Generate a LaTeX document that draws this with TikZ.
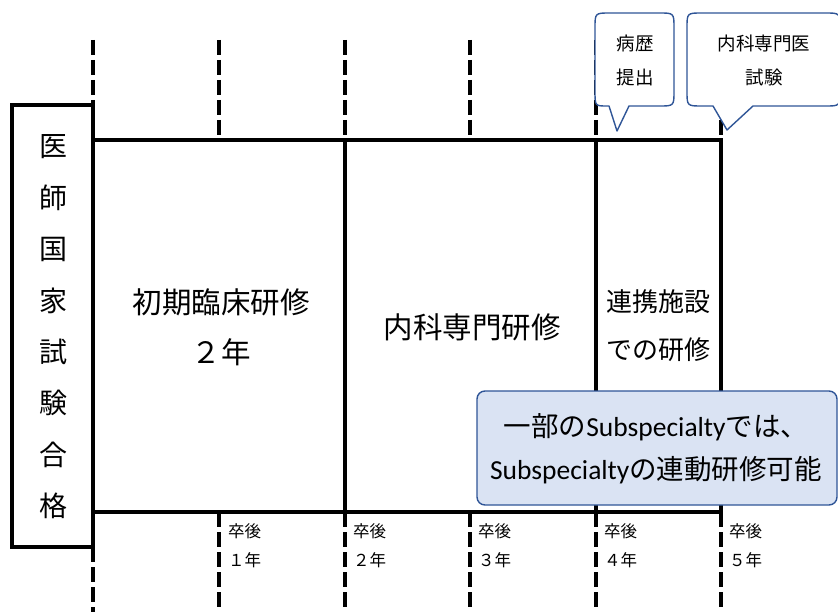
\documentclass[tikz,border=0pt]{standalone}
\usepackage{fontspec}
\setmainfont{Noto Sans CJK JP}
\newfontfamily\lat{Carlito}
\definecolor{cblue}{RGB}{47,85,151}
\definecolor{notefill}{RGB}{218,227,243}
\begin{document}
\begin{tikzpicture}[x=1pt,y=-1pt,
  dashline/.style={line width=4pt, dash pattern=on 15pt off 5pt},
  period/.style={draw, line width=4pt, anchor=north west, inner sep=0pt, outer sep=0pt},
  bigtxt/.style={font=\fontsize{29.5}{50}\selectfont, align=center, inner sep=0pt},
  calloutshape/.style={draw=cblue, line width=1.4pt, fill=white, line join=round},
  ctxt/.style={font=\fontsize{18.5}{34}\selectfont, align=center, inner sep=0pt},
  lbl/.style={font=\fontsize{16.5}{29}\selectfont, align=left, anchor=west, inner sep=0pt},
]
\useasboundingbox (0,0) rectangle (838,612);

% dashed year lines
\foreach \x in {219,345,470,596,721} {
  \draw[dashline] (\x,40) -- (\x,140);
  \draw[dashline] (\x,512) -- (\x,612);
}
\draw[dashline] (93,40) -- (93,105);
\draw[dashline] (93,547) -- (93,612);

% exam box
\node[draw, line width=4pt, inner sep=0pt, outer sep=0pt, minimum width=81pt, minimum height=442pt, anchor=north west] (exam) at (12,105) {};
\node[font=\fontsize{28}{51.4}\selectfont, align=center, inner sep=0pt] (examtxt) at (53,327) {医\\師\\国\\家\\試\\験\\合\\格};

% periods
\node[period, minimum width=252pt, minimum height=372pt] (p1) at (93,140) {};
\node[period, minimum width=251pt, minimum height=372pt] (p2) at (345,140) {};
\node[period, minimum width=125pt, minimum height=372pt] (p3) at (596,140) {};

\node[bigtxt] (t1) at (221,327) {初期臨床研修\\２年};
\node[bigtxt] (t2) at (472,327) {内科専門研修};
\node[bigtxt, font=\fontsize{26}{48}\selectfont] (t3) at (658.5,326) {連携施設\\での研修};

% callouts
\draw[calloutshape] (609,106) -- (617,131) -- (629,106) -- (659,106) .. controls (674,106) .. (674,91) -- (674,28) .. controls (674,13) .. (659,13) -- (610,13) .. controls (595,13) .. (595,28) -- (595,91) .. controls (595,106) .. (607,106) -- cycle;
\node[ctxt] (c1) at (635,60) {病歴\\提出};

\draw[calloutshape] (713,106) -- (727,130) -- (753,106) -- (825,106) .. controls (840,106) .. (840,91) -- (840,28) .. controls (840,13) .. (825,13) -- (702,13) .. controls (687,13) .. (687,28) -- (687,91) .. controls (687,106) .. (702,106) -- cycle;
\node[ctxt] (c2) at (764,60) {内科専門医\\試験};

% note box
\node[draw=cblue, fill=notefill, line width=1.4pt, rounded corners=8pt, inner sep=0pt, outer sep=0pt,
      minimum width=360pt, minimum height=114pt, anchor=north west] (note) at (477,391) {};
\node[font=\fontsize{27.5}{43}\selectfont, align=center, inner sep=0pt] (notetxt) at (656,449)
  {一部の{\lat Subspecialty}では、\\{\lat Subspecialty}の連動研修可能};

% year labels
\node[lbl] (y1) at (228,546) {卒後\\１年};
\node[lbl] (y2) at (353,546) {卒後\\２年};
\node[lbl] (y3) at (478,546) {卒後\\３年};
\node[lbl] (y4) at (604,546) {卒後\\４年};
\node[lbl] (y5) at (729,546) {卒後\\５年};
\end{tikzpicture}
\end{document}
